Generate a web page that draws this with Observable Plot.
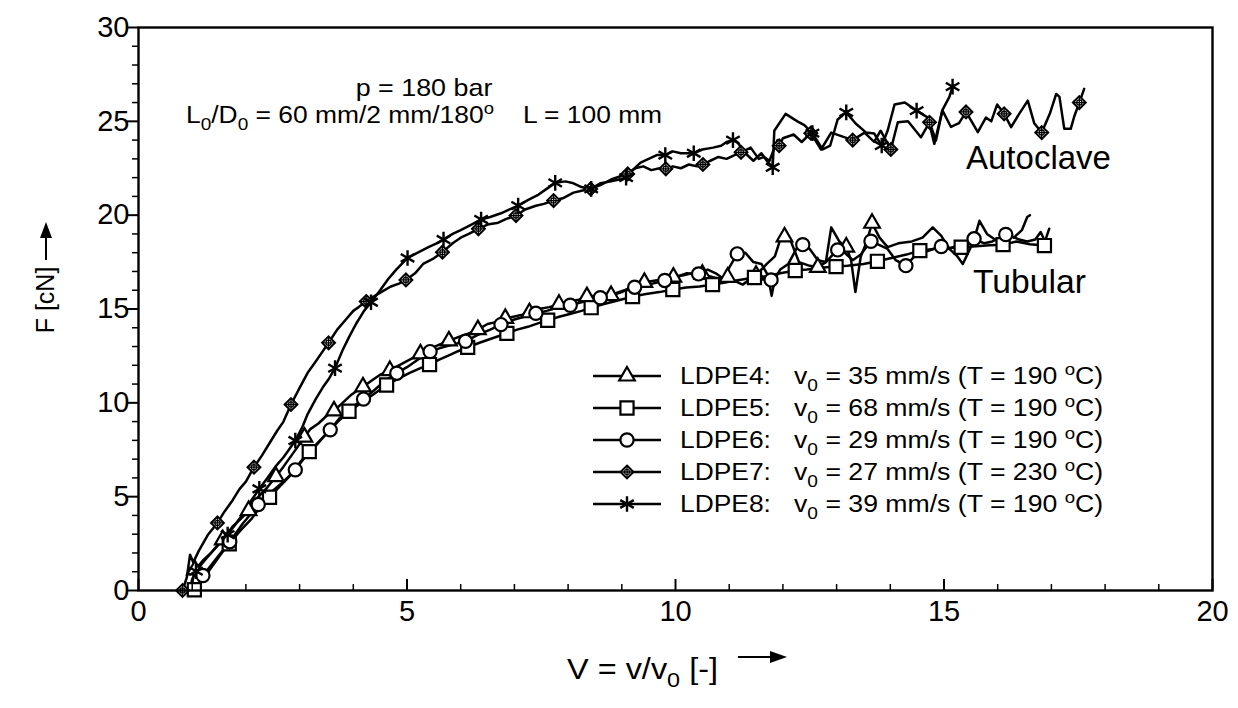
<!DOCTYPE html>
<html><head><meta charset="utf-8">
<script src="https://cdn.jsdelivr.net/npm/d3@7"></script>
<script src="https://cdn.jsdelivr.net/npm/@observablehq/plot@0.6"></script>
<style>
body{margin:0;background:#fff;}
#chart{width:1238px;height:708px;}
</style>
</head><body><div id="chart"></div>
<script>
// ---------- data (V = v/v0, F in cN) ----------
const seriesNames = ["LDPE4","LDPE5","LDPE6","LDPE7","LDPE8"];
const legendSpeeds = ["35","68","29","27","39"];
const legendTemps = ["190","190","190","230","190"];

const ldpe4Curve = [[0.97,0],[1.05,1.1],[1.2,1.6],[1.35,2.0],[1.57,2.7],[1.75,3.4],[1.9,3.8],[2.05,4.26],[2.2,4.9],[2.4,5.5],[2.56,6.07],[2.7,6.6],[2.85,7.2],[3.0,7.8],[3.09,8.17],[3.2,8.6],[3.35,8.9],[3.5,9.3],[3.64,9.57],[3.8,10.0],[3.95,10.4],[4.05,10.6],[4.18,10.85],[4.35,11.2],[4.5,11.5],[4.68,11.72],[4.85,12.0],[5.05,12.3],[5.25,12.61],[5.45,12.9],[5.6,13.1],[5.78,13.3],[5.95,13.5],[6.15,13.7],[6.32,13.9],[6.5,14.2],[6.65,14.3],[6.83,14.5],[7.0,14.6],[7.15,14.7],[7.28,14.8],[7.45,15.0],[7.65,15.1],[7.83,15.25],[8.0,15.4],[8.2,15.5],[8.35,15.66],[8.55,15.7],[8.8,15.72],[9.0,15.9],[9.2,16.2],[9.42,16.42],[9.6,16.5],[9.8,16.6],[9.96,16.7],[10.15,16.8],[10.3,16.9],[10.5,16.85],[10.7,16.7],[10.85,16.6],[10.97,16.69],[11.1,16.5],[11.25,16.3],[11.4,16.6],[11.5,16.8],[11.7,17.4],[11.85,17.8],[11.95,18.7],[12.03,18.84],[12.15,18.6],[12.3,17.5],[12.5,17.3],[12.65,17.22],[12.8,17.5],[12.9,19.35],[13.05,18.6],[13.18,18.3],[13.27,17.6],[13.35,15.9],[13.45,17.8],[13.55,18.5],[13.66,19.57],[13.8,18.8],[13.95,18.3],[14.15,18.5],[14.4,18.6],[14.6,18.8],[14.79,19.35],[14.95,18.9],[15.1,18.2],[15.25,17.8],[15.35,17.4],[15.45,18.0],[15.55,18.6],[15.66,19.7],[15.8,19.0],[15.95,18.7],[16.1,18.6],[16.25,18.9],[16.4,18.7],[16.55,18.6],[16.7,18.7],[16.8,19.1],[16.88,18.6],[16.96,19.28]];
const ldpe4Marks = [[1.05,1.1],[1.57,2.7],[2.05,4.26],[2.56,6.07],[3.09,8.17],[3.64,9.57],[4.18,10.85],[4.68,11.72],[5.25,12.61],[5.78,13.3],[6.32,13.9],[6.83,14.5],[7.28,14.8],[7.83,15.25],[8.35,15.66],[8.8,15.72],[9.42,16.42],[9.96,16.7],[10.5,16.85],[10.97,16.69],[11.5,16.8],[12.03,18.84],[12.65,17.22],[13.18,18.3],[13.66,19.57]];

const ldpe5Curve = [[1.0,0],[1.04,0.04],[1.2,0.6],[1.4,1.4],[1.55,2.0],[1.69,2.49],[1.9,3.2],[2.1,3.8],[2.25,4.4],[2.44,4.97],[2.65,5.6],[2.85,6.2],[3.0,6.8],[3.18,7.4],[3.35,7.9],[3.55,8.5],[3.75,9.1],[3.92,9.55],[4.1,9.9],[4.3,10.3],[4.45,10.6],[4.62,10.95],[4.85,11.3],[5.05,11.6],[5.25,11.85],[5.42,12.04],[5.6,12.3],[5.8,12.55],[5.95,12.75],[6.13,12.96],[6.35,13.2],[6.55,13.4],[6.7,13.55],[6.86,13.7],[7.05,13.9],[7.25,14.05],[7.45,14.25],[7.62,14.4],[7.85,14.6],[8.05,14.75],[8.25,14.9],[8.43,15.07],[8.65,15.25],[8.85,15.4],[9.05,15.55],[9.2,15.66],[9.45,15.8],[9.7,15.9],[9.95,16.04],[10.2,16.15],[10.45,16.2],[10.69,16.3],[10.9,16.4],[11.1,16.5],[11.3,16.6],[11.47,16.68],[11.7,16.75],[11.95,16.9],[12.23,17.05],[12.45,17.1],[12.7,17.2],[12.99,17.26],[13.2,17.3],[13.5,17.4],[13.76,17.54],[14.0,17.7],[14.3,17.9],[14.55,18.11],[14.8,18.2],[15.05,18.25],[15.32,18.29],[15.6,18.35],[15.85,18.4],[16.1,18.43],[16.35,18.6],[16.6,18.45],[16.87,18.38]];
const ldpe5Marks = [[1.04,0.04],[1.69,2.49],[2.44,4.97],[3.18,7.4],[3.92,9.55],[4.62,10.95],[5.42,12.04],[6.13,12.96],[6.86,13.7],[7.62,14.4],[8.43,15.07],[9.2,15.66],[9.95,16.04],[10.69,16.3],[11.47,16.68],[12.23,17.05],[12.99,17.26],[13.76,17.54],[14.55,18.11],[15.32,18.29],[16.1,18.43],[16.87,18.38]];

const ldpe6Curve = [[1.05,0],[1.2,0.8],[1.45,1.7],[1.7,2.6],[1.95,3.6],[2.1,4.1],[2.23,4.58],[2.45,5.2],[2.7,5.8],[2.92,6.43],[3.1,7.1],[3.3,7.7],[3.45,8.2],[3.57,8.56],[3.75,9.2],[3.95,9.7],[4.19,10.2],[4.4,10.7],[4.6,11.2],[4.81,11.58],[5.0,11.9],[5.2,12.3],[5.43,12.73],[5.6,12.9],[5.85,13.1],[6.09,13.28],[6.3,13.6],[6.55,13.9],[6.75,14.17],[6.95,14.4],[7.2,14.6],[7.4,14.77],[7.6,14.9],[7.85,15.1],[8.04,15.2],[8.3,15.4],[8.6,15.6],[8.85,15.8],[9.05,16.0],[9.24,16.16],[9.5,16.3],[9.8,16.52],[10.0,16.7],[10.2,16.9],[10.43,16.87],[10.6,17.1],[10.75,16.9],[10.9,16.6],[11.0,17.2],[11.15,17.94],[11.3,18.0],[11.45,17.5],[11.6,17.4],[11.72,16.8],[11.79,15.7],[11.85,16.6],[11.95,17.1],[12.1,17.4],[12.25,18.2],[12.37,18.43],[12.5,18.2],[12.65,17.6],[12.8,17.5],[12.9,17.8],[13.02,18.15],[13.15,18.0],[13.3,17.6],[13.45,17.9],[13.64,18.61],[13.8,18.4],[13.95,18.2],[14.1,17.6],[14.29,17.31],[14.45,17.8],[14.6,18.0],[14.8,18.2],[14.95,18.33],[15.1,18.2],[15.25,18.4],[15.4,18.3],[15.56,18.74],[15.75,18.5],[15.9,18.6],[16.05,18.8],[16.15,18.97],[16.3,18.8],[16.45,19.2],[16.55,19.9],[16.6,20.0]];
const ldpe6Marks = [[1.2,0.8],[1.7,2.6],[2.23,4.58],[2.92,6.43],[3.57,8.56],[4.19,10.2],[4.81,11.58],[5.43,12.73],[6.09,13.28],[6.75,14.17],[7.4,14.77],[8.04,15.2],[8.6,15.6],[9.24,16.16],[9.8,16.52],[10.43,16.87],[11.15,17.94],[11.78,16.55],[12.37,18.43],[13.02,18.15],[13.64,18.61],[14.29,17.31],[14.95,18.33],[15.56,18.74],[16.15,18.97]];

const ldpe7Curve = [[0.82,0],[0.9,0.7],[0.96,1.9],[1.02,1.5],[1.12,2.1],[1.3,3.0],[1.47,3.6],[1.6,4.2],[1.75,4.8],[1.88,5.4],[2.0,5.8],[2.15,6.57],[2.3,7.2],[2.45,7.9],[2.58,8.5],[2.7,9.0],[2.84,9.91],[3.0,10.8],[3.15,11.6],[3.3,12.2],[3.42,12.7],[3.54,13.2],[3.7,13.9],[3.85,14.4],[4.0,14.9],[4.1,15.1],[4.24,15.4],[4.4,15.7],[4.55,15.95],[4.7,16.2],[4.85,16.35],[4.98,16.55],[5.15,16.9],[5.3,17.4],[5.5,17.7],[5.66,18.03],[5.85,18.5],[6.0,18.8],[6.15,19.0],[6.33,19.27],[6.5,19.5],[6.7,19.6],[6.85,19.8],[7.03,19.98],[7.2,20.3],[7.4,20.5],[7.55,20.6],[7.73,20.78],[7.9,20.9],[8.1,21.2],[8.25,21.3],[8.42,21.4],[8.6,21.6],[8.8,21.9],[9.0,22.1],[9.11,22.2],[9.25,22.5],[9.4,22.6],[9.55,22.4],[9.7,22.5],[9.82,22.47],[9.95,22.6],[10.1,22.5],[10.25,22.7],[10.4,22.6],[10.51,22.7],[10.65,22.9],[10.8,23.1],[10.95,23.0],[11.1,23.2],[11.22,23.35],[11.4,23.6],[11.55,23.0],[11.65,23.1],[11.75,22.9],[11.9,24.0],[11.93,23.7],[12.0,24.1],[12.2,24.3],[12.35,23.9],[12.52,24.37],[12.71,23.5],[12.9,24.4],[13.1,24.2],[13.3,24.0],[13.52,24.4],[13.7,23.9],[13.82,24.5],[14.01,23.5],[14.14,24.95],[14.33,25.0],[14.57,24.15],[14.73,24.95],[14.85,23.98],[14.97,25.58],[15.13,24.7],[15.28,24.9],[15.41,25.5],[15.63,24.42],[15.78,25.2],[15.88,25.0],[15.99,25.9],[16.12,25.4],[16.25,24.69],[16.4,25.4],[16.56,26.1],[16.68,24.9],[16.82,24.4],[16.97,25.4],[17.09,26.46],[17.15,26.3],[17.24,24.6],[17.36,24.6],[17.43,25.3],[17.52,26.0],[17.61,26.73]];
const ldpe7Marks = [[0.82,0],[1.47,3.6],[2.15,6.57],[2.84,9.91],[3.54,13.2],[4.24,15.4],[4.98,16.55],[5.66,18.03],[6.33,19.27],[7.03,19.98],[7.73,20.78],[8.42,21.4],[9.11,22.2],[9.82,22.47],[10.51,22.7],[11.22,23.35],[11.93,23.7],[12.52,24.37],[13.3,24.0],[14.01,23.5],[14.73,24.95],[15.41,25.5],[16.12,25.4],[16.82,24.4],[17.52,26.0]];

const ldpe8Curve = [[0.95,0],[1.0,0.6],[1.07,1.03],[1.2,1.5],[1.35,2.0],[1.5,2.5],[1.66,2.98],[1.8,3.5],[1.95,4.1],[2.1,4.8],[2.25,5.42],[2.4,6.0],[2.55,6.6],[2.7,7.1],[2.8,7.5],[2.92,7.99],[3.05,8.7],[3.15,9.4],[3.3,10.2],[3.45,10.9],[3.55,11.3],[3.66,11.85],[3.8,12.8],[3.92,13.5],[4.05,14.2],[4.2,14.9],[4.33,15.36],[4.5,16.0],[4.65,16.6],[4.8,17.1],[5.01,17.72],[5.2,18.0],[5.4,18.3],[5.55,18.5],[5.68,18.7],[5.85,19.0],[6.0,19.2],[6.2,19.5],[6.38,19.77],[6.55,19.9],[6.75,20.1],[6.9,20.3],[7.07,20.51],[7.25,20.8],[7.45,21.1],[7.6,21.4],[7.76,21.72],[7.95,21.8],[8.1,21.7],[8.25,21.5],[8.43,21.4],[8.6,21.7],[8.8,21.8],[8.95,21.9],[9.08,22.0],[9.2,22.4],[9.35,22.8],[9.5,23.0],[9.65,23.2],[9.81,23.2],[9.95,23.4],[10.1,23.3],[10.2,23.3],[10.34,23.3],[10.5,23.5],[10.7,23.6],[10.85,23.7],[10.95,23.9],[11.07,24.0],[11.15,23.9],[11.3,23.3],[11.45,22.9],[11.6,23.3],[11.7,22.9],[11.81,22.55],[11.84,24.5],[12.05,25.4],[12.27,25.0],[12.4,24.8],[12.55,24.37],[12.74,23.5],[12.88,23.7],[13.02,25.1],[13.18,25.48],[13.35,24.9],[13.55,24.4],[13.7,24.35],[13.84,23.71],[13.95,24.5],[14.08,25.9],[14.27,26.0],[14.49,25.57],[14.7,25.2],[14.82,23.8],[14.97,25.6],[15.1,26.3],[15.16,26.85]];
const ldpe8Marks = [[1.07,1.03],[1.66,2.98],[2.25,5.42],[2.92,7.99],[3.66,11.85],[4.33,15.36],[5.01,17.72],[5.68,18.7],[6.38,19.77],[7.07,20.51],[7.76,21.72],[8.43,21.4],[9.08,22.0],[9.81,23.2],[10.34,23.3],[11.07,24.0],[11.81,22.55],[12.55,24.37],[13.18,25.48],[13.84,23.71],[14.49,25.57],[15.16,26.85]];

const xMajorTicks = [0,5,10,15,20];
const xMinorTicks = [1,2,3,4,6,7,8,9,11,12,13,14,16,17,18,19];
const yMajorTicks = [0,5,10,15,20,25,30];
const yMinorTicks = [1,2,3,4,6,7,8,9,11,12,13,14,16,17,18,19,21,22,23,24,26,27,28,29];

// ---------- build tables ----------
const curves = [ldpe4Curve, ldpe5Curve, ldpe6Curve, ldpe7Curve, ldpe8Curve];
const marks = [ldpe4Marks, ldpe5Marks, ldpe6Marks, ldpe7Marks, ldpe8Marks];
const lineRows = curves.flatMap((c, i) => c.map(([V, F]) => ({series: seriesNames[i], V, F})));
const markRows = marks.map((m, i) => m.map(([V, F]) => ({series: seriesNames[i], V, F})));

const FONT = "'Liberation Sans', Arial, Helvetica, sans-serif";
const W = 1238, H = 708;
const M = {left: 138, right: 26, top: 27, bottom: 118};

const LW = 2.5, MW = 2.2;
const dotStyle = {x: "V", y: "F", stroke: "black", strokeWidth: MW, fill: "white"};

const plot = Plot.plot({
  width: W, height: H,
  marginLeft: M.left, marginRight: M.right, marginTop: M.top, marginBottom: M.bottom,
  style: {fontFamily: FONT, fontSize: "29px", background: "white", color: "black"},
  x: {domain: [0, 20]},
  y: {domain: [0, 30]},
  marks: [
    Plot.line(lineRows, {x: "V", y: "F", z: "series", stroke: "black", strokeWidth: LW, strokeLinejoin: "round"}),
    Plot.dot(markRows[0], {...dotStyle, symbol: "triangle", r: 5.8}),
    Plot.dot(markRows[1], {...dotStyle, symbol: "square", r: 7.4}),
    Plot.dot(markRows[2], {...dotStyle, symbol: "circle", r: 6.6}),
    Plot.dot(markRows[3], {...dotStyle, symbol: "diamond2", r: 5.8, strokeWidth: 2}),
    Plot.dot(markRows[3], {x: "V", y: "F", symbol: "circle", r: 2.6, stroke: "black", strokeWidth: 1.3, fill: "none"}),
    Plot.dot(markRows[3], {x: "V", y: "F", symbol: "plus", r: 4.3, stroke: "black", strokeWidth: 1.3}),
    Plot.dot(markRows[4], {x: "V", y: "F", symbol: "asterisk", r: 7.4, stroke: "black", strokeWidth: 2.4, fill: "none"}),
    // inward ticks
    Plot.ruleX(xMajorTicks, {x: d => d, y1: 0, y2: 0, insetBottom: 11, stroke: "black", strokeWidth: 2}),
    Plot.ruleX(xMinorTicks, {x: d => d, y1: 0, y2: 0, insetBottom: 6, stroke: "black", strokeWidth: 1.5}),
    Plot.ruleY(yMajorTicks, {y: d => d, x1: 0, x2: 0, insetRight: 11, stroke: "black", strokeWidth: 2}),
    Plot.ruleY(yMinorTicks, {y: d => d, x1: 0, x2: 0, insetRight: 6, stroke: "black", strokeWidth: 1.5}),
    Plot.axisX({ticks: xMajorTicks, tickSize: 0, tickPadding: 10, fontSize: 29, label: null, tickFormat: d => String(d)}),
    Plot.axisY({ticks: yMajorTicks, tickSize: 0, tickPadding: 9, fontSize: 29, label: null, tickFormat: d => String(d)}),
    Plot.frame({stroke: "black", strokeWidth: 2.4})
  ]
});
document.getElementById("chart").appendChild(plot);

const svg = d3.select(plot);
svg.selectAll('g[aria-label$="tick label"]').attr("font-size", 29).selectAll("text").attr("font-size", 29);

// ---------- annotations, legend and axis titles ----------
const g = svg.append("g").attr("font-family", FONT).attr("fill", "black");

// rich text with sub/superscripts; sx stretches horizontally around the anchor point
function rich(x, y, parts, size, anchor, sx) {
  const t = g.append("text").attr("transform", `translate(${x},${y}) scale(${sx || 1},1)`)
    .attr("font-size", size).attr("text-anchor", anchor || "start");
  let shift = 0;
  parts.forEach(p => {
    const s = t.append("tspan").text(p.t);
    let target = 0;
    if (p.sub) { target = size * 0.28; s.attr("font-size", size * 0.72); }
    if (p.sup) { target = -size * 0.38; s.attr("font-size", size * 0.7); }
    if (target !== shift) s.attr("dy", target - shift);
    shift = target;
  });
  return t;
}

rich(424, 96, [{t: "p = 180 bar"}], 24, "middle", 1.12);
rich(186, 123, [{t: "L"}, {t: "0", sub: true}, {t: "/D"}, {t: "0", sub: true}, {t: " = 60 mm/2 mm/180"}, {t: "o", sup: true}], 24, "start", 1.1);
rich(523, 123, [{t: "L = 100 mm"}], 24, "start", 1.1);
rich(966, 169, [{t: "Autoclave"}], 33);
rich(973, 293, [{t: "Tubular"}], 33, "start", 1.02);

// legend
const legendSymbols = [d3.symbolTriangle, d3.symbolSquare, d3.symbolCircle, d3.symbolDiamond2, d3.symbolAsterisk];
const legendR = [5.8, 7.4, 6.6, 5.8, 7.4];
const legendY0 = 376, legendDy = 32;
seriesNames.forEach((name, i) => {
  const y = legendY0 + i * legendDy;
  g.append("line").attr("x1", 593).attr("x2", 661).attr("y1", y).attr("y2", y)
    .attr("stroke", "black").attr("stroke-width", LW);
  const sym = g.append("path").attr("transform", `translate(627,${y})`)
    .attr("d", d3.symbol(legendSymbols[i], Math.PI * legendR[i] ** 2)())
    .attr("stroke", "black").attr("stroke-width", i === 4 ? 2.4 : MW)
    .attr("fill", i === 4 ? "none" : "white");
  if (i === 3) {
    sym.attr("stroke-width", 2);
    g.append("path").attr("transform", `translate(627,${y})`)
      .attr("d", d3.symbol(d3.symbolCircle, Math.PI * 2.6 ** 2)()).attr("fill", "none").attr("stroke", "black").attr("stroke-width", 1.3);
    g.append("path").attr("transform", `translate(627,${y})`)
      .attr("d", d3.symbol(d3.symbolPlus, Math.PI * 4.3 ** 2)()).attr("fill", "none").attr("stroke", "black").attr("stroke-width", 1.3);
  }
  rich(680, y + 8, [{t: name + ":"}], 24, "start", 1.1);
  rich(794, y + 8, [{t: "v"}, {t: "0", sub: true}, {t: ` = ${legendSpeeds[i]} mm/s (T = ${legendTemps[i]} `}, {t: "o", sup: true}, {t: "C)"}], 24, "start", 1.11);
});

// axis titles with arrows
rich(567, 679, [{t: "V = v/v"}, {t: "0", sub: true}, {t: " [-]"}], 29, "start", 1.12);
g.append("line").attr("x1", 738).attr("x2", 772).attr("y1", 657).attr("y2", 657).attr("stroke", "black").attr("stroke-width", 2);
g.append("path").attr("d", "M787,657 L770,651 L770,663 Z").attr("fill", "black");

g.append("text").attr("transform", "translate(54,300) rotate(-90)")
  .attr("text-anchor", "middle").attr("font-size", 25).text("F [cN]");
g.append("line").attr("x1", 46).attr("x2", 46).attr("y1", 260).attr("y2", 236).attr("stroke", "black").attr("stroke-width", 2);
g.append("path").attr("d", "M46,222 L40,238 L52,238 Z").attr("fill", "black");
</script>
</body></html>
